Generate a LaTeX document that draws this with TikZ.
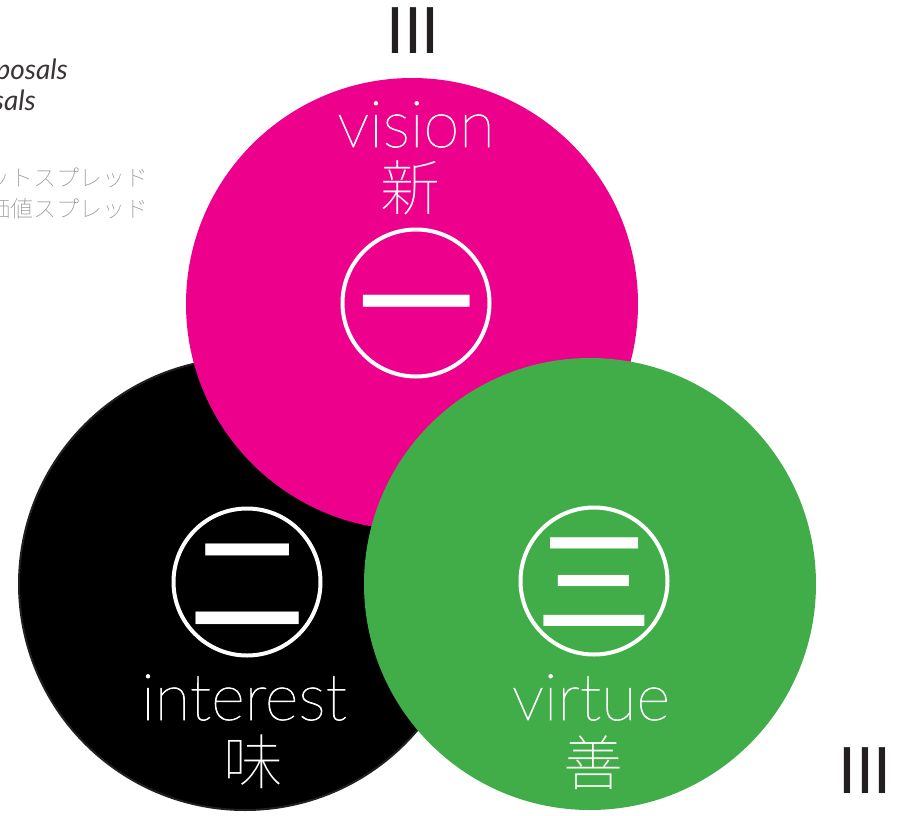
\documentclass[tikz,border=0pt]{standalone}
\usepackage{fontspec}
\usetikzlibrary{positioning}
\setmainfont{Lato}
\IfFontExistsTF{Lato Thin}{\newfontfamily\hairfont{Lato Thin}[FakeBold=1.2]}{\IfFontExistsTF{Lato Hairline}{\newfontfamily\hairfont{Lato Hairline}[FakeBold=1.6]}{\newfontfamily\hairfont{Lato}}}
\IfFontExistsTF{Noto Sans CJK JP Thin}{\newfontfamily\cjkthin{Noto Sans CJK JP Thin}}{\IfFontExistsTF{Noto Sans CJK JP DemiLight}{\newfontfamily\cjkthin{Noto Sans CJK JP DemiLight}}{\newfontfamily\cjkthin{Noto Sans CJK JP}}}
\IfFontExistsTF{Noto Sans CJK JP Medium}{\newfontfamily\cjkbold{Noto Sans CJK JP Medium}}{\newfontfamily\cjkbold{Noto Sans CJK JP}[FakeBold=1.5]}
\definecolor{vispink}{HTML}{EC008C}
\definecolor{virgreen}{HTML}{41AD49}
\definecolor{inkgrey}{HTML}{231F20}
\definecolor{notegrey}{HTML}{8C8C8C}

\begin{document}
\begin{tikzpicture}[x=1pt,y=-1pt,
  disc/.style={circle,minimum size=452pt,inner sep=0pt},
  ring/.style={circle,draw=white,line width=4pt,minimum size=147pt,inner sep=0pt},
  word/.style={text=white,inner sep=0pt,anchor=base,font=\hairfont\fontsize{65}{65}\selectfont},
  kanji/.style={text=white,inner sep=0pt,font=\cjkthin\fontsize{60}{60}\selectfont},
  numeral/.style={text=white,inner sep=0pt,anchor=base,yshift=-43pt,font=\cjkbold\fontsize{116}{116}\selectfont},
  roman/.style={text=inkgrey,inner sep=0pt,anchor=base,font=\fontsize{64}{64}\selectfont},
  ennote/.style={text=inkgrey!90,inner sep=0pt,anchor=base east,font=\itshape\fontsize{28}{28}\selectfont},
  janote/.style={text=notegrey,inner sep=0pt,anchor=base east,font=\cjkthin\fontsize{23}{23}\selectfont}]
\useasboundingbox (0,0) rectangle (903,815);
\clip (0,0) rectangle (903,815);
\node[ennote] (en1) at (68,79) {value proposals};
\node[ennote] (en2) at (36,110) {proposals};
\node[janote] (ja1) at (149,186) {マーケットスプレッド};
\node[janote] (ja2) at (149,217) {価値スプレッド};
\node[roman] (topmark) at (413,53) {III};
\node[roman] (cornermark) at (865,793) {III};
\node[disc,fill=black,draw=inkgrey,line width=2pt] (interest) at (245,584) {};
\node[disc,fill=vispink] (vision) at (412,304) {};
\node[disc,fill=virgreen] (virtue) at (590,584) {};
\node[ring] (one) at (416,303) {};
\node[numeral] at (one) {一};
\node[word] (visionword) at (416,147) {vision};
\node[kanji] (shin) at (410,187.5) {新};
\node[ring] (two) at (247,582) {};
\node[numeral] at (two) {二};
\node[word] (interestword) at (244,720) {interest};
\node[kanji] (aji) at (253.5,761.5) {味};
\node[ring] (three) at (594,581) {};
\node[numeral] at (three) {三};
\node[word] (virtueword) at (591,720) {virtue};
\node[kanji] (zen) at (593.5,762.5) {善};
\end{tikzpicture}
\end{document}
